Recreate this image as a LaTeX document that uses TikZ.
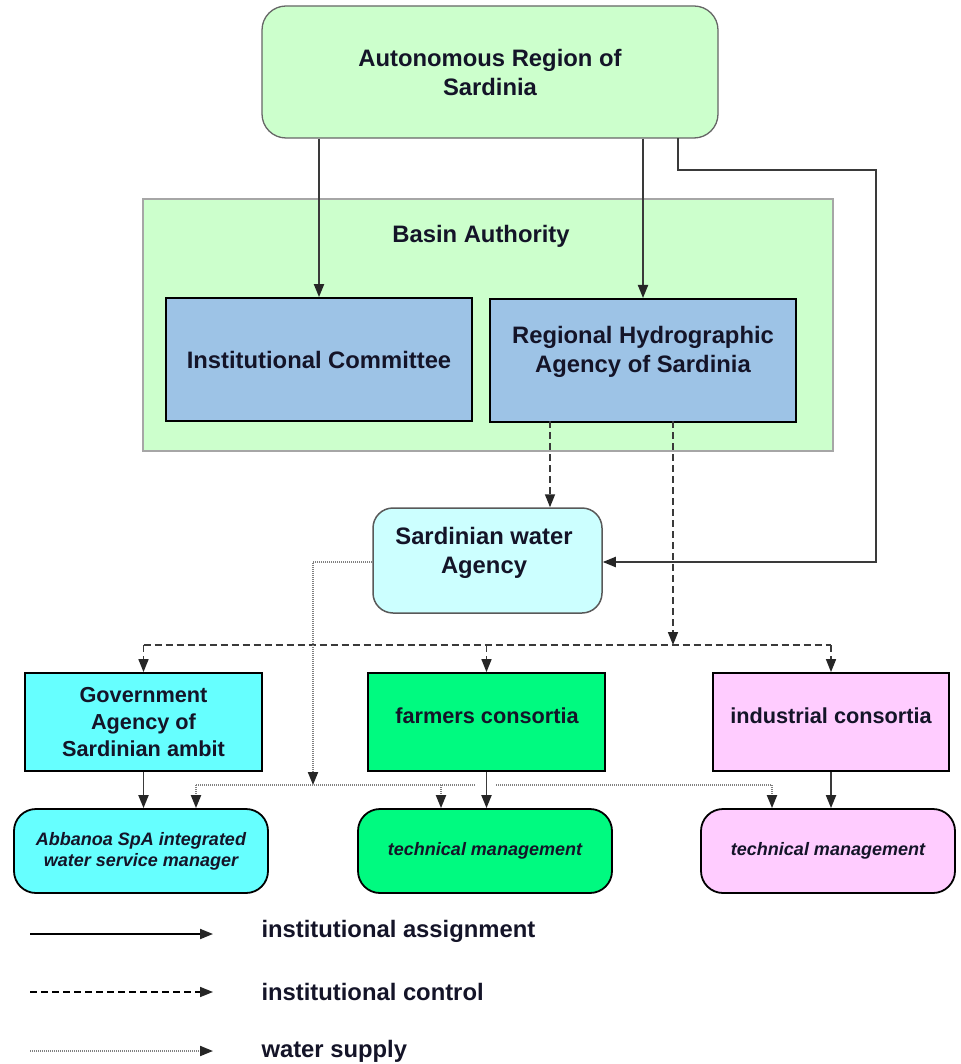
\documentclass[tikz,border=0pt]{standalone}
\usepackage{fontspec}
\setmainfont{Liberation Sans}
\usetikzlibrary{arrows.meta,calc}
\definecolor{lgreen}{HTML}{CCFFCC}
\definecolor{lblue}{HTML}{9DC3E6}
\definecolor{lcyan}{HTML}{CCFFFF}
\definecolor{cyanb}{HTML}{66FFFF}
\definecolor{gbright}{HTML}{00FA80}
\definecolor{pinkb}{HTML}{FFCCFF}
\definecolor{txt}{HTML}{141428}
\definecolor{lineg}{HTML}{3A3A3A}
\tikzset{
  bigtxt/.style={font=\fontsize{23.8}{29}\selectfont\bfseries, text=txt, align=center},
  midtxt/.style={font=\fontsize{21.7}{27}\selectfont\bfseries, text=txt, align=center},
  smalltxt/.style={font=\fontsize{18}{21}\selectfont\bfseries\itshape, text=txt, align=center},
  sqbox/.style={draw=black, line width=1.8pt, inner sep=0pt},
  rdbox/.style={draw=black, line width=1.8pt, rounded corners=22pt, inner sep=0pt},
  tip/.style={-{Triangle[length=13pt,width=10pt,color=black!85]}},
  assign/.style={tip, draw=lineg, line width=1.9pt},
  control/.style={tip, draw=lineg, line width=1.6pt, dash pattern=on 7pt off 4pt},
  controlline/.style={draw=lineg, line width=1.6pt, dash pattern=on 7pt off 4pt},
  supply/.style={tip, draw=gray, line width=2pt, dash pattern=on 1pt off 1pt},
  supplyline/.style={draw=gray, line width=2pt, dash pattern=on 1pt off 1pt},
}
\begin{document}
\begin{tikzpicture}[x=1pt,y=-1pt]
\useasboundingbox[fill=white] (0,0) rectangle (960,1064);
% main blocks
\node[draw=gray!80!black, line width=1.3pt, rounded corners=24pt, fill=lgreen, minimum width=456pt, minimum height=132pt, bigtxt] (ars) at (490,72) {Autonomous Region of\\Sardinia};
\node[draw=gray!70, line width=1.3pt, fill=lgreen, minimum width=690pt, minimum height=252pt] (basin) at (488,325) {};
\node[bigtxt] (basint) at (481,236) {Basin Authority};
\node[sqbox, fill=lblue, minimum width=306pt, minimum height=123pt, bigtxt] (ic) at (319,359.5) {Institutional Committee};
\node[sqbox, fill=lblue, minimum width=306pt, minimum height=123pt, bigtxt, anchor=north] (rh) at (643,298) {};
\node[bigtxt] (rht) at (643,352) {Regional Hydrographic\\Agency of Sardinia};
\node[draw=gray!70!black, line width=1.5pt, rounded corners=20pt, fill=lcyan, minimum width=229pt, minimum height=105pt] (swa) at (487.5,560.5) {};
\node[bigtxt] (swat) at (484,553) {Sardinian water\\Agency};
\node[sqbox, fill=cyanb, minimum width=237pt, minimum height=98pt, midtxt] (gov) at (143.5,722) {Government\\Agency of\\Sardinian ambit};
\node[sqbox, fill=gbright, minimum width=237pt, minimum height=98pt, midtxt] (farm) at (486.5,722) {};
\node[midtxt] (farmt) at (487,716) {farmers consortia};
\node[sqbox, fill=pinkb, minimum width=236pt, minimum height=98pt] (ind) at (831,722) {};
\node[midtxt] (indt) at (831,716) {industrial consortia};
\node[rdbox, fill=cyanb, minimum width=254pt, minimum height=84pt, smalltxt] (abb) at (141,851) {Abbanoa SpA integrated\\water service manager};
\node[rdbox, fill=gbright, minimum width=254pt, minimum height=84pt, smalltxt] (t1) at (485,851) {technical management};
\node[rdbox, fill=pinkb, minimum width=254pt, minimum height=84pt, smalltxt] (t2) at (828,851) {technical management};
% institutional assignment
\draw[assign] (ars.south -| ic.north) -- (ic.north);
\draw[assign] (ars.south -| rh.north) -- (rh.north);
\coordinate (a0) at (678,138);
\coordinate (a1) at (678,170);
\coordinate (a2) at (876,170);
\coordinate (a3) at (876,562);
\draw[assign] (a0) -- (a1) -- (a2) -- (a3) -- (a3 -| swa.east);
\draw[assign] (gov.south) -- (gov.south |- abb.north);
\draw[assign] (farm.south) -- (farm.south |- t1.north);
\draw[assign] (ind.south) -- (ind.south |- t2.north);
% institutional control
\coordinate (rhL) at (550,421);
\coordinate (rhR) at (673,421);
\coordinate (busR) at (673,645);
\draw[control] (rhL) -- (rhL |- swa.north);
\draw[control] (rhR) -- (busR);
\draw[controlline] (gov.north |- busR) -- (ind.north |- busR);
\draw[control] (gov.north |- busR) -- (gov.north);
\draw[control] (farm.north |- busR) -- (farm.north);
\draw[control] (ind.north |- busR) -- (ind.north);
% water supply
\coordinate (w1) at (313,562);
\coordinate (w2) at (313,785);
\coordinate (wa) at (196,785);
\coordinate (wb) at (475,785);
\coordinate (wc) at (496,785);
\coordinate (wd) at (772,785);
\coordinate (wt1) at (441,785);
\draw[supply] (w1 -| swa.west) -- (w1) -- (w2);
\draw[supplyline] (wa) -- (wb);
\draw[supplyline] (wc) -- (wd);
\draw[supply] (wa) -- (wa |- abb.north);
\draw[supply] (wt1) -- (wt1 |- t1.north);
\draw[supply] (wd) -- (wd |- t2.north);
% legend
\coordinate (la1) at (30,934);
\coordinate (la2) at (213,934);
\coordinate (lb1) at (30,992);
\coordinate (lb2) at (213,992);
\coordinate (lc1) at (30,1051);
\coordinate (lc2) at (213,1051);
\draw[assign, draw=black] (la1) -- (la2);
\draw[control, draw=black] (lb1) -- (lb2);
\draw[supply] (lc1) -- (lc2);
\node[bigtxt, anchor=west] (l1) at (258,931) {institutional assignment};
\node[bigtxt, anchor=west] (l2) at (258,992) {institutional control};
\node[bigtxt, anchor=west] (l3) at (258,1051) {water supply};
\end{tikzpicture}
\end{document}
